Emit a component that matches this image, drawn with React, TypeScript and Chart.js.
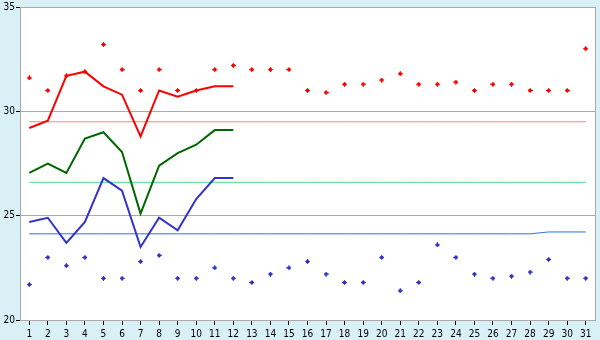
import { useEffect, useRef } from 'react';
import { Chart, registerables } from 'chart.js';

Chart.register(...registerables);

const days = ['1','2','3','4','5','6','7','8','9','10','11','12','13','14','15','16','17','18','19','20','21','22','23','24','25','26','27','28','29','30','31'];

const maxTemps = [31.6,31.0,31.7,31.9,33.2,32.0,31.0,32.0,31.0,31.0,32.0,32.2,32.0,32.0,32.0,31.0,30.9,31.3,31.3,31.5,31.8,31.3,31.3,31.4,31.0,31.3,31.3,31.0,31.0,31.0,33.0];
const minTemps = [21.7,23.0,22.6,23.0,22.0,22.0,22.8,23.1,22.0,22.0,22.5,22.0,21.8,22.2,22.5,22.8,22.2,21.8,21.8,23.0,21.4,21.8,23.6,23.0,22.2,22.0,22.1,22.3,22.9,22.0,22.0];

const avgMax = [29.2,29.55,31.7,31.9,31.2,30.8,28.8,31.0,30.7,31.0,31.2,31.2];
const avgMean = [27.05,27.5,27.05,28.7,29.0,28.05,25.1,27.4,28.0,28.4,29.1,29.1];
const avgMin = [24.7,24.9,23.7,24.7,26.8,26.2,23.5,24.9,24.3,25.8,26.8,26.8];

const normalMax = [29.5,29.5,29.5,29.5,29.5,29.5,29.5,29.5,29.5,29.5,29.5,29.5,29.5,29.5,29.5,29.5,29.5,29.5,29.5,29.5,29.5,29.5,29.5,29.5,29.5,29.5,29.5,29.5,29.5,29.5,29.5];
const normalMean = [26.6,26.6,26.6,26.6,26.6,26.6,26.6,26.6,26.6,26.6,26.6,26.6,26.6,26.6,26.6,26.6,26.6,26.6,26.6,26.6,26.6,26.6,26.6,26.6,26.6,26.6,26.6,26.6,26.6,26.6,26.6];
const normalMin = [24.13,24.13,24.13,24.13,24.13,24.13,24.13,24.13,24.13,24.13,24.13,24.13,24.13,24.13,24.13,24.13,24.13,24.13,24.13,24.13,24.13,24.13,24.13,24.13,24.13,24.13,24.13,24.13,24.22,24.22,24.22];

const yTicks = [20, 25, 30, 35];

function makeMarker(color: string) {
  const c = document.createElement('canvas');
  c.width = 5;
  c.height = 5;
  const g = c.getContext('2d')!;
  g.fillStyle = color;
  g.fillRect(2, 0, 1, 5);
  g.fillRect(0, 2, 5, 1);
  g.fillRect(1, 1, 3, 3);
  return c;
}

export default function App() {
  const ref = useRef<HTMLCanvasElement | null>(null);

  useEffect(() => {
    if (!ref.current) return;
    const redMarker = makeMarker('#ff0000');
    const blueMarker = makeMarker('#3333cc');
    const font = { family: "'DejaVu Sans Condensed', 'DejaVu Sans', sans-serif", size: 10 };

    const framePlugin = {
      id: 'frame',
      beforeDraw(chart: any) {
        const { ctx, chartArea } = chart;
        ctx.save();
        ctx.fillStyle = '#ffffff';
        ctx.fillRect(chartArea.left, chartArea.top, chartArea.right - chartArea.left, chartArea.bottom - chartArea.top);
        ctx.restore();
      },
      afterDraw(chart: any) {
        const { ctx, chartArea } = chart;
        ctx.save();
        ctx.strokeStyle = '#aaaaaa';
        ctx.lineWidth = 1;
        ctx.beginPath();
        const x = Math.round(chartArea.right) + 0.5;
        ctx.moveTo(x, Math.round(chartArea.top));
        ctx.lineTo(x, Math.round(chartArea.bottom) + 1);
        ctx.stroke();
        ctx.restore();
      },
    };

    const chart = new Chart(ref.current, {
      type: 'line',
      data: {
        labels: days,
        datasets: [
          { data: maxTemps, showLine: false, pointStyle: redMarker as any, pointRadius: 3, borderColor: '#ff0000', backgroundColor: '#ff0000' },
          { data: minTemps, showLine: false, pointStyle: blueMarker as any, pointRadius: 3, borderColor: '#3333cc', backgroundColor: '#3333cc' },
          { data: avgMax, borderColor: '#ff0000', borderWidth: 2, pointRadius: 0, fill: false },
          { data: avgMean, borderColor: '#006600', borderWidth: 2, pointRadius: 0, fill: false },
          { data: avgMin, borderColor: '#3333cc', borderWidth: 2, pointRadius: 0, fill: false },
          { data: normalMax, borderColor: '#ff8080', borderWidth: 1, pointRadius: 0, fill: false },
          { data: normalMean, borderColor: '#40dd88', borderWidth: 1, pointRadius: 0, fill: false },
          { data: normalMin, borderColor: '#2277dd', borderWidth: 1, pointRadius: 0, fill: false },
        ],
      },
      options: {
        animation: false,
        responsive: false,
        maintainAspectRatio: false,
        devicePixelRatio: 1,
        layout: { padding: { top: 5, right: 5, left: 0, bottom: 0 } },
        plugins: { legend: { display: false }, tooltip: { enabled: false } },
        events: [],
        scales: {
          x: {
            type: 'category',
            offset: true,
            grid: { display: true, drawOnChartArea: false, drawTicks: true, tickLength: 5, tickColor: '#000000', color: '#aaaaaa' },
            border: { display: true, color: '#aaaaaa' },
            ticks: { color: '#000000', font, padding: 3, maxRotation: 0, autoSkip: false },
            afterFit: (s: any) => { s.height = 20; },
          },
          y: {
            type: 'linear',
            min: 20,
            max: 35,
            afterBuildTicks: (s: any) => { s.ticks = yTicks.map((v) => ({ value: v })); },
            grid: { color: '#aaaaaa', tickColor: '#000000', tickLength: 4, drawTicks: true },
            border: { display: true, color: '#aaaaaa' },
            ticks: { color: '#000000', font, padding: 1 },
            afterFit: (s: any) => { s.width = 20; },
          },
        },
      },
      plugins: [framePlugin],
    });
    return () => chart.destroy();
  }, []);

  return (
    <div style={{ position: 'fixed', left: 0, top: 0, width: 600, height: 340, background: '#d9f0f7' }}>
      <canvas ref={ref} width={600} height={340} style={{ display: 'block', width: 600, height: 340 }} />
    </div>
  );
}
